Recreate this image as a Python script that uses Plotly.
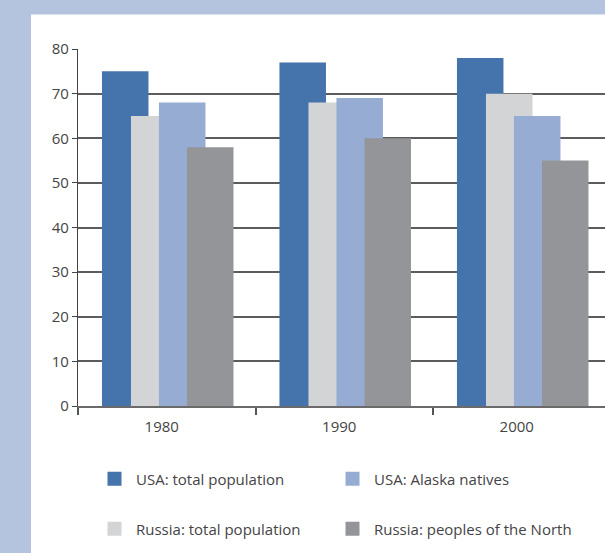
import plotly.graph_objects as go

years = ["1980", "1990", "2000"]
usa_total = [75, 77, 78]
russia_total = [65, 68, 70]
usa_alaska = [68, 69, 65]
russia_north = [58, 60, 55]

# name, values, colour, legend slot (legend column / row)
series = [
    ("USA: total population", usa_total, "#4574ad", "legend"),
    ("Russia: total population", russia_total, "#d3d4d6", "legend3"),
    ("USA: Alaska natives", usa_alaska, "#97acd3", "legend2"),
    ("Russia: peoples of the North", russia_north, "#939598", "legend4"),
]

offsets = [-0.365, -0.2015, -0.044, 0.114]
bar_w = 0.262
xpos = list(range(len(years)))

fig = go.Figure()
for (name, vals, color, lg), off in zip(series, offsets):
    fig.add_trace(go.Bar(
        x=xpos, y=vals, name=name, marker=dict(color=color, line=dict(width=0)),
        width=bar_w, offset=off, showlegend=False, legendgroup=name,
    ))
for name, vals, color, lg in series:
    fig.add_trace(go.Scatter(
        x=[None], y=[None], mode="markers", name=name, legend=lg, legendgroup=name,
        marker=dict(symbol="square", size=14, color=color, line=dict(width=0)),
    ))

font = dict(family="Open Sans", size=15, color="#444444")
W, H = 605, 553
L, R, T, B = 78, 0, 49, 147
pw = W - L - R
ph = H - T - B
unit = 177.5

def px_x(px):
    return (px - L) / pw

def px_y(py):
    return (H - B - py) / ph

legend_common = dict(orientation="h", xanchor="left", yanchor="middle",
                     itemwidth=33, bgcolor="rgba(0,0,0,0)", font=font,
                     itemclick=False, itemdoubleclick=False)
col1, col2 = px_x(93), px_x(331)
row1, row2 = px_y(479), px_y(529)

fig.update_layout(
    width=W, height=H,
    margin=dict(l=L, r=R, t=T, b=B, pad=0),
    paper_bgcolor="#b4c3de",
    plot_bgcolor="rgba(0,0,0,0)",
    barmode="overlay",
    font=font,
    shapes=[dict(type="rect", xref="paper", yref="paper",
                 x0=px_x(31), x1=1.2, y0=-1, y1=px_y(14.5),
                 fillcolor="white", line=dict(width=0), layer="below")],
    xaxis=dict(
        range=[-0.5, -0.5 + pw / unit],
        tickvals=xpos, ticktext=years, ticks="", showgrid=False, zeroline=False,
        showline=True, linecolor="#6a6a6a", linewidth=2,
        ticklabelshift=-5, ticklabelstandoff=6,
        minor=dict(tickmode="linear", tick0=-0.5, dtick=1, ticks="outside",
                   ticklen=7, tickwidth=1.5, tickcolor="#555555", showgrid=False),
        fixedrange=True,
    ),
    yaxis=dict(
        range=[0, 80], tickvals=list(range(0, 90, 10)), ticks="outside", ticklen=5,
        tickwidth=1.3, tickcolor="#444444",
        showgrid=True, gridcolor="#5c5c5c", gridwidth=1.6, zeroline=False,
        showline=True, linecolor="#444444", linewidth=1.3, ticklabelstandoff=0,
        fixedrange=True,
    ),
    legend=dict(x=col1, y=row1, **legend_common),
    legend2=dict(x=col2, y=row1, **legend_common),
    legend3=dict(x=col1, y=row2, **legend_common),
    legend4=dict(x=col2, y=row2, **legend_common),
)

fig.write_html("out.html")
